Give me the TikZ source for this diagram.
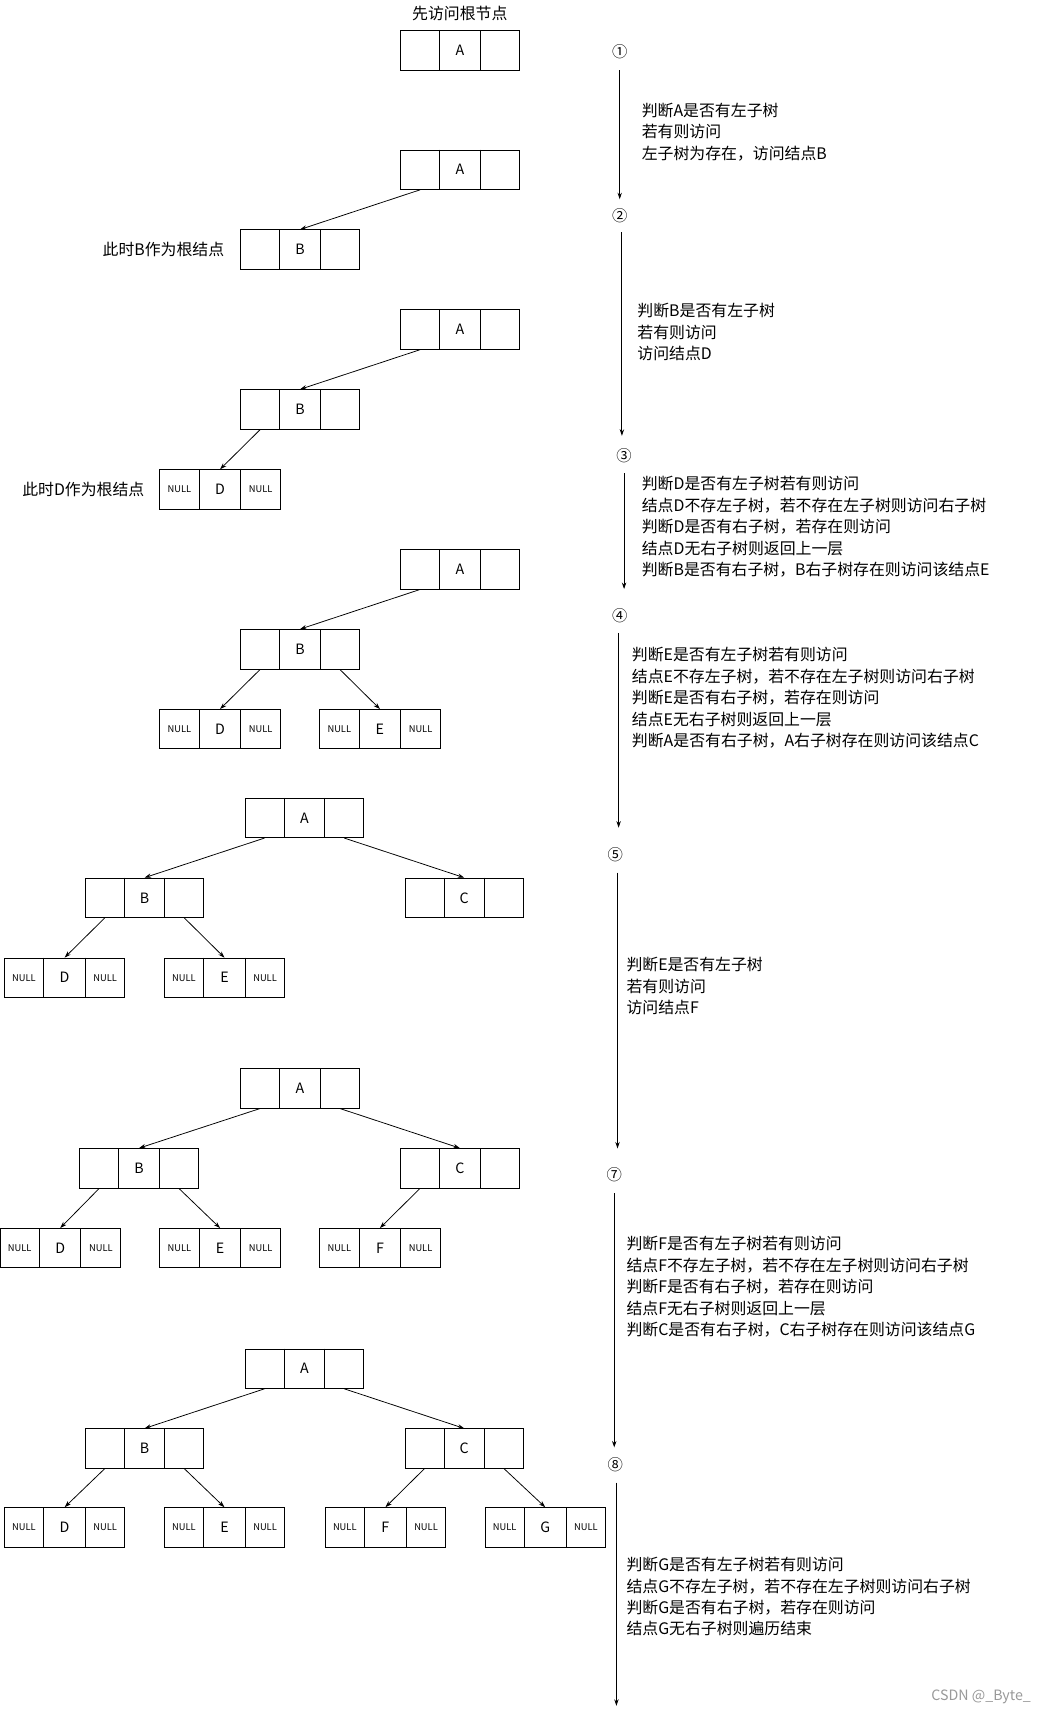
\documentclass[tikz,border=0pt]{standalone}
\usepackage{fontspec}
\setmainfont{Noto Sans CJK SC}
\usetikzlibrary{arrows.meta}
\tikzset{
 tbox/.style={draw,line width=0.8pt,minimum width=108pt,minimum height=36pt,inner sep=0pt},
 nbox/.style={draw,line width=0.8pt,minimum width=110pt,minimum height=36pt,inner sep=0pt},
 edge/.style={line width=0.7pt,-{Stealth[length=6pt,width=4pt]}},
 flow/.style={line width=0.8pt,-{Stealth[length=6pt,width=4pt]}},
 txt/.style={anchor=north west,align=left,font=\fontsize{14.5}{19.6}\selectfont,inner sep=0pt},
 lbl/.style={font=\fontsize{14.5}{17}\selectfont,inner sep=0pt},
 num/.style={font=\fontsize{14}{16}\selectfont,inner sep=0pt}
}
\newcommand\tri[4]{\node[tbox] (#1) at (#2+54,#3+18) {};
 \draw[line width=0.8pt] ([xshift=36pt]#1.north west) -- ([xshift=36pt]#1.south west);
 \draw[line width=0.8pt] ([xshift=-36pt]#1.north east) -- ([xshift=-36pt]#1.south east);
 \node[font=\fontsize{13}{15}\selectfont] at (#1) {#4};}
\newcommand\nul[4]{\node[nbox] (#1) at (#2+55,#3+18) {};
 \draw[line width=0.8pt] ([xshift=36.5pt]#1.north west) -- ([xshift=36.5pt]#1.south west);
 \draw[line width=0.8pt] ([xshift=-36.5pt]#1.north east) -- ([xshift=-36.5pt]#1.south east);
 \node[font=\fontsize{13}{15}\selectfont] at (#1) {#4};
 \node[font=\fontsize{8.5}{10}\selectfont] at ([xshift=18.3pt]#1.west) {NULL};
 \node[font=\fontsize{8.5}{10}\selectfont] at ([xshift=-18.3pt]#1.east) {NULL};}
\newcommand\lft[2]{\draw[edge] ([xshift=18pt]#1.south west) -- (#2.north);}
\newcommand\rgt[2]{\draw[edge] ([xshift=-18pt]#1.south east) -- (#2.north);}
\begin{document}
\begin{tikzpicture}[x=1pt,y=-1pt]
\useasboundingbox[fill=white] (0,0) rectangle (960,1570);
% stage 1
\node[lbl] (t0) at (420,12) {先访问根节点};
\tri{a1}{366}{28}{A}
% stage 2
\tri{a2}{366}{137}{A}
\tri{b2}{220}{210}{B}
\node[lbl,anchor=east] (l2) at (205,228) {此时B作为根结点};
\lft{a2}{b2}
% stage 3
\tri{a3}{366}{283}{A}
\tri{b3}{220}{356}{B}
\nul{d3}{146}{429}{D}
\node[lbl,anchor=east] (l3) at (132,447) {此时D作为根结点};
\lft{a3}{b3}\lft{b3}{d3}
% stage 4
\tri{a4}{366}{502}{A}
\tri{b4}{220}{575}{B}
\nul{d4}{146}{648}{D}
\nul{e4}{292}{648}{E}
\lft{a4}{b4}\lft{b4}{d4}\rgt{b4}{e4}
% stage 5
\tri{a5}{224}{729}{A}
\tri{b5}{78}{802}{B}
\tri{c5}{370}{802}{C}
\nul{d5}{4}{875}{D}
\nul{e5}{150}{875}{E}
\lft{a5}{b5}\rgt{a5}{c5}\lft{b5}{d5}\rgt{b5}{e5}
% stage 6
\tri{a6}{220}{976}{A}
\tri{b6}{73}{1049}{B}
\tri{c6}{366}{1049}{C}
\nul{d6}{0}{1122}{D}
\nul{e6}{146}{1122}{E}
\nul{f6}{292}{1122}{F}
\lft{a6}{b6}\rgt{a6}{c6}\lft{b6}{d6}\rgt{b6}{e6}\lft{c6}{f6}
% stage 7
\tri{a7}{224}{1232}{A}
\tri{b7}{78}{1305}{B}
\tri{c7}{370}{1305}{C}
\nul{d7}{4}{1377}{D}
\nul{e7}{150}{1377}{E}
\nul{f7}{297}{1377}{F}
\nul{g7}{443}{1377}{G}
\lft{a7}{b7}\rgt{a7}{c7}\lft{b7}{d7}\rgt{b7}{e7}\lft{c7}{f7}\rgt{c7}{g7}
% right column
\node[num] (n1) at (566,47) {①};
\coordinate (e1) at (566,182);
\draw[flow] (566,64) -- (e1);
\node[txt] (x1) at (586,94) {判断A是否有左子树\\若有则访问\\左子树为存在，访问结点B};
\node[num] (n2) at (566,197) {②};
\coordinate (e2) at (568,398);
\draw[flow] (568,212) -- (e2);
\node[txt] (x2) at (582,277) {判断B是否有左子树\\若有则访问\\访问结点D};
\node[num] (n3) at (570,416) {③};
\coordinate (e3) at (570,538);
\draw[flow] (570,432) -- (e3);
\node[txt] (x3) at (586,435) {判断D是否有左子树若有则访问\\结点D不存左子树，若不存在左子树则访问右子树\\判断D是否有右子树，若存在则访问\\结点D无右子树则返回上一层\\判断B是否有右子树，B右子树存在则访问该结点E};
\node[num] (n4) at (566,562) {④};
\coordinate (e4) at (565,756);
\draw[flow] (565,578) -- (e4);
\node[txt] (x4) at (577,591) {判断E是否有左子树若有则访问\\结点E不存左子树，若不存在左子树则访问右子树\\判断E是否有右子树，若存在则访问\\结点E无右子树则返回上一层\\判断A是否有右子树，A右子树存在则访问该结点C};
\node[num] (n5) at (562,781) {⑤};
\coordinate (e5) at (564,1049);
\draw[flow] (564,797) -- (e5);
\node[txt] (x5) at (572,874) {判断E是否有左子树\\若有则访问\\访问结点F};
\node[num] (n7) at (561,1073) {⑦};
\coordinate (e7) at (561,1322);
\draw[flow] (561,1090) -- (e7);
\node[txt] (x7) at (572,1129) {判断F是否有左子树若有则访问\\结点F不存左子树，若不存在左子树则访问右子树\\判断F是否有右子树，若存在则访问\\结点F无右子树则返回上一层\\判断C是否有右子树，C右子树存在则访问该结点G};
\node[num] (n8) at (562,1338) {⑧};
\coordinate (e8) at (563,1558);
\draw[flow] (563,1354) -- (e8);
\node[txt] (x8) at (572,1422) {判断G是否有左子树若有则访问\\结点G不存左子树，若不存在左子树则访问右子树\\判断G是否有右子树，若存在则访问\\结点G无右子树则遍历结束};
\node[font=\fontsize{13}{15}\selectfont,text=black!40,anchor=east] (wm) at (945,1550) {CSDN @\_Byte\_};
\end{tikzpicture}
\end{document}
